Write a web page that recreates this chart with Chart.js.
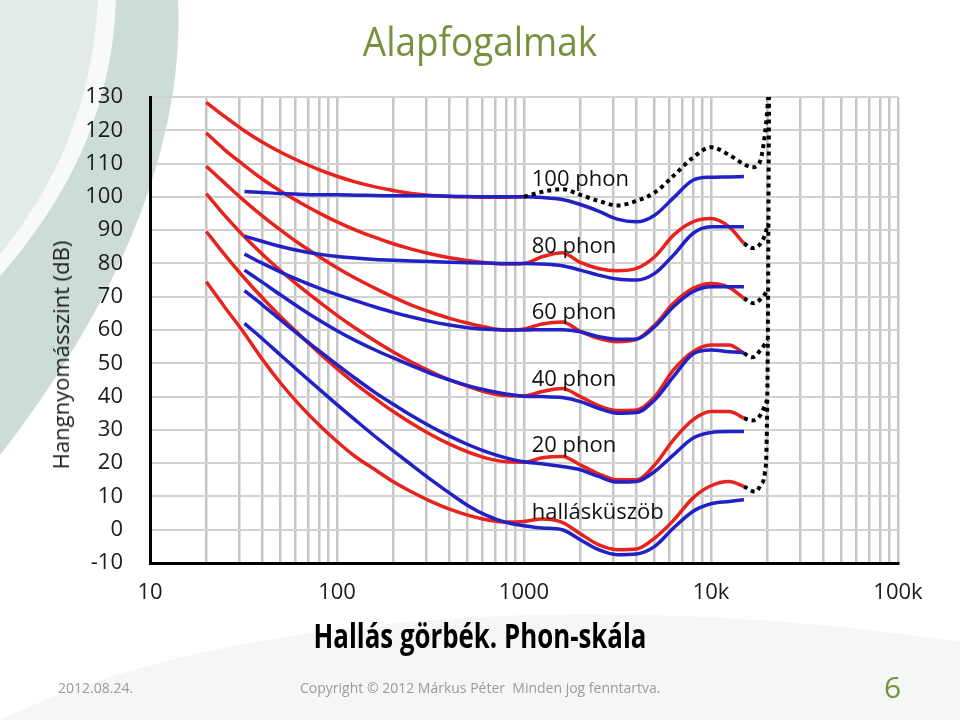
<!DOCTYPE html>
<html>
<head>
<meta charset="utf-8">
<title>Hallás görbék</title>
<script src="https://cdn.jsdelivr.net/npm/chart.js@4.4.1/dist/chart.umd.min.js"></script>
<style>
  html, body { margin: 0; padding: 0; background: #fff; }
  #wrap { position: relative; width: 960px; height: 720px; overflow: hidden; font-family: "Open Sans", sans-serif; }
  #bg, #chart { position: absolute; left: 0; top: 0; }
  .txt { position: absolute; white-space: nowrap; }
  #title { left: 480px; top: 12px; font-size: 41px; color: #76923c; transform: translateX(-50%) scaleX(0.9); }
  #ytitle { left: 60px; top: 355px; font-size: 22px; color: #1a1a1a; transform: translate(-50%, -50%) rotate(-90deg); }
  #sub { left: 480px; top: 612px; font-size: 34px; font-weight: bold; color: #000; transform: translateX(-50%) scaleX(0.76); }
  #date { left: 58px; top: 678px; font-size: 14px; color: #9a9a9a; }
  #copy { left: 300px; top: 678px; font-size: 14px; color: #9a9a9a; }
  #page { left: 884px; top: 666px; font-size: 30px; color: #76923c; }
</style>
</head>
<body>
<div id="wrap">
  <svg id="bg" width="960" height="720">
    <path d="M0,0 H178 C184,130 132,285 0,455 Z" fill="#cddcd7"/>
    <path d="M0,0 H104 C100,110 60,190 0,262 Z" fill="#e3ebe8"/>
    <path d="M98,0 H116 C112,112 68,198 0,276 V254 C54,188 92,108 98,0 Z" fill="#f7faf9"/>
    <path d="M0,720 C220,612 600,588 960,642 V720 Z" fill="#f4f7f6"/>
  </svg>
  <canvas id="chart" width="960" height="720"></canvas>
  <div class="txt" id="title">Alapfogalmak</div>
  <div class="txt" id="ytitle">Hangnyomásszint (dB)</div>
  <div class="txt" id="sub">Hallás görbék. Phon-skála</div>
  <div class="txt" id="date">2012.08.24.</div>
  <div class="txt" id="copy">Copyright © 2012 Márkus Péter&nbsp; Minden jog fenntartva.</div>
  <div class="txt" id="page">6</div>
</div>
<script>
// Frequencies (Hz)
const redFreqs = [20, 25, 31.5, 40, 50, 63, 80, 100, 125, 160, 200, 250, 315, 400, 500, 630, 800,
  1000, 1250, 1600, 2000, 2500, 3150, 4000, 5000, 6300, 8000, 10000, 12500, 15000];
const blueFreqs = [32, 40, 50, 63, 80, 100, 125, 160, 200, 250, 315, 400, 500, 630, 800,
  1000, 1250, 1600, 2000, 2500, 3150, 4000, 5000, 6300, 8000, 10000, 12500, 15000];

// Red curves (dB SPL at redFreqs)
const red0 = [74.5, 67, 59.5, 51.1, 44, 37.5, 31.5, 26.5, 22, 18, 14.4, 11.4, 8.6, 6.2, 4.4, 3.0, 2.3,
  2.5, 3.2, 2.2, -1.2, -4.5, -6.0, -5.8, -2.5, 2.8, 9.5, 13.2, 14.5, 13.0];
const red20 = [89.6, 82.7, 76, 69.6, 64, 58.6, 53.2, 48.4, 43.9, 39.4, 35.5, 32, 28.7, 25.7, 23.4, 21.5, 20.4,
  20.3, 21.6, 22, 19.5, 16.8, 15, 15, 19.5, 27, 33, 35.5, 35.5, 33.5];
const red40 = [101, 94.5, 88.4, 82.7, 77.8, 73.1, 68.5, 64.4, 60.6, 56.7, 53.4, 50.4, 47.6, 45, 43.1, 41.3, 40.3,
  40.2, 41.5, 42.4, 40, 37.3, 35.8, 36, 40, 48, 53.5, 55.5, 55.5, 53];
const red60 = [109.2, 104.2, 99.1, 94.2, 90, 85.9, 82.1, 78.7, 75.6, 72.5, 69.9, 67.5, 65.4, 63.5, 62.1, 60.8, 60,
  60.3, 61.8, 62.4, 59.6, 57.5, 56.5, 57.2, 61.5, 68, 72.5, 74, 72.8, 69.5];
const red80 = [119.2, 114.2, 109.7, 105.3, 101.7, 98.4, 95.2, 92.5, 90.1, 87.8, 85.9, 84.3, 82.9, 81.7, 80.9, 80.2, 79.8,
  80, 82, 83.2, 80.3, 78.5, 77.8, 78.5, 82, 88.5, 92.5, 93.5, 91, 86];
const red100 = [128.4, 124.2, 120.1, 116.4, 113.4, 110.7, 108.2, 106.2, 104.5, 103, 101.9, 101, 100.4, 100.1, 100, 99.9, 99.9,
  100, null, null, null, null, null, null, null, null, null, null, null, null];

// Blue curves (dB SPL at blueFreqs)
const blue0 = [62, 57.3, 52.4, 47.4, 42.3, 37.6, 33.0, 28.0, 23.7, 19.5, 15.2, 11, 7.3, 4.3, 2.2,
  1.2, 0.5, 0, -3, -6, -7.5, -7.3, -5, 0.5, 5.5, 7.8, 8.5, 9];
const blue20 = [71.8, 67.5, 63, 58.4, 53.8, 49.6, 45.5, 41.2, 37.7, 34.3, 31.1, 28.1, 25.6, 23.4, 21.6,
  20.4, 19.8, 19, 18, 16, 14.3, 14.5, 17.5, 22.5, 27.5, 29.2, 29.5, 29.5];
const blue40 = [78, 74.3, 70.5, 66.7, 63, 59.8, 56.9, 54, 51.6, 49.3, 47, 45, 43.3, 41.9, 40.8,
  40.1, 40, 39.7, 38.5, 36.5, 35, 35.2, 39, 46, 52.8, 54, 53.5, 53.2];
const blue60 = [82.8, 80.0, 77.4, 74.9, 72.6, 70.6, 68.8, 66.9, 65.3, 63.9, 62.6, 61.5, 60.7, 60.2, 60.0,
  60, 60.1, 60.1, 59.5, 58, 57.2, 57.3, 61, 67, 71.5, 73, 73, 73];
const blue80 = [88.2, 86.6, 85.1, 83.8, 82.8, 82.1, 81.6, 81.2, 80.95, 80.75, 80.55, 80.35, 80.2, 80.1, 80,
  80, 79.8, 79.3, 78, 76.5, 75.3, 75, 77, 82.5, 89, 91, 91, 91];
const blue100 = [101.6, 101.3, 101, 100.8, 100.6, 100.6, 100.5, 100.4, 100.3, 100.3, 100.3, 100.2, 100.1, 100, 100,
  100, 99.8, 99.2, 97.7, 95.7, 93.3, 92.5, 94.5, 99.7, 105, 105.9, 106, 106.1];

// Dotted black continuations (upper 100 phon part and the ~20 kHz wall)
const dot100Freqs = [1000, 1250, 1600, 2000, 2500, 3150, 4000, 5000, 6300, 8000, 10000, 12500, 15000,
  16600, 17800, 18600, 19700, 20300];
const dot100 = [100, 101.5, 102.3, 100.6, 98.8, 97.4, 98.8, 101.3, 106.3, 111.8, 114.9, 112.6, 109.8,
  108.9, 109.6, 112, 122, 131];
const wallFreqs = [15000, 17200, 18400, 19400, 19800, 20000, 20150, 20250, 20350, 20450];
const wall = [13, 11.4, 13.4, 17, 24, 40, 60, 85, 110, 131];
const dot20Freqs = [15000, 16600, 18400, 19950];
const dot20 = [33.5, 32.8, 34.5, 39];
const dot40Freqs = [15000, 16600, 18400, 20120];
const dot40 = [53, 51.8, 54, 57];
const dot60Freqs = [15000, 17000, 18900, 20200];
const dot60 = [69.5, 68, 70, 72];
const dot80Freqs = [15000, 16600, 18900, 20280];
const dot80 = [86, 84.6, 87, 92];

// Axis ticks and curve labels
const xMajorTicks = [10, 100, 1000, 10000, 100000];
const xTickLabels = ['10', '100', '1000', '10k', '100k'];
const phonLevels = [100, 80, 60, 40, 20, 0];
const phonLabels = ['100 phon', '80 phon', '60 phon', '40 phon', '20 phon', 'hallásküszöb'];

const RED = '#e6231c';
const BLUE = '#2121c6';

function toPoints(freqs, vals) {
  const pts = [];
  freqs.forEach((f, i) => {
    if (vals[i] !== null && vals[i] !== undefined) pts.push({ x: f, y: vals[i] });
  });
  return pts;
}

function curve(freqs, vals, color, order) {
  return {
    data: toPoints(freqs, vals),
    borderColor: color,
    borderWidth: 3.5,
    pointRadius: 0,
    fill: false,
    cubicInterpolationMode: 'monotone',
    order: order
  };
}

function dotted(freqs, vals) {
  return {
    data: toPoints(freqs, vals),
    borderColor: '#000',
    borderWidth: 4,
    borderDash: [4, 4],
    borderCapStyle: 'butt',
    pointRadius: 0,
    fill: false,
    cubicInterpolationMode: 'monotone',
    order: 0
  };
}

// grid lines on every 1..9 x 10^n
const xGridTicks = [];
for (let e = 1; e <= 5; e++) {
  for (let m = 1; m <= 9; m++) {
    const v = m * Math.pow(10, e);
    if (v <= 100000) xGridTicks.push(v);
  }
}

// phon labels next to the curves
const phonLabelPlugin = {
  id: 'phonLabels',
  afterDatasetsDraw(chart) {
    const { ctx, scales } = chart;
    ctx.save();
    ctx.font = '22px "Open Sans"';
    ctx.fillStyle = '#111';
    ctx.textAlign = 'left';
    ctx.textBaseline = 'alphabetic';
    const x = scales.x.getPixelForValue(1100);
    phonLevels.forEach((lv, i) => {
      ctx.fillText(phonLabels[i], x, scales.y.getPixelForValue(lv + 3.2));
    });
    ctx.restore();
  }
};

Chart.defaults.font.family = '"Open Sans", sans-serif';

const chart = new Chart(document.getElementById('chart').getContext('2d'), {
  type: 'line',
  data: {
    datasets: [
      dotted(dot100Freqs, dot100),
      dotted(wallFreqs, wall),
      dotted(dot20Freqs, dot20),
      dotted(dot40Freqs, dot40),
      dotted(dot60Freqs, dot60),
      dotted(dot80Freqs, dot80),
      curve(blueFreqs, blue100, BLUE, 1),
      curve(blueFreqs, blue80, BLUE, 1),
      curve(blueFreqs, blue60, BLUE, 1),
      curve(blueFreqs, blue40, BLUE, 1),
      curve(blueFreqs, blue20, BLUE, 1),
      curve(blueFreqs, blue0, BLUE, 1),
      curve(redFreqs, red100, RED, 2),
      curve(redFreqs, red80, RED, 2),
      curve(redFreqs, red60, RED, 2),
      curve(redFreqs, red40, RED, 2),
      curve(redFreqs, red20, RED, 2),
      curve(redFreqs, red0, RED, 2)
    ]
  },
  options: {
    responsive: false,
    animation: false,
    devicePixelRatio: 1,
    layout: { padding: { top: 97, right: 62, bottom: 0, left: 0 } },
    plugins: {
      legend: { display: false },
      tooltip: { enabled: false },
      title: { display: false }
    },
    scales: {
      x: {
        type: 'logarithmic',
        min: 10,
        max: 100000,
        afterFit(scale) { scale.height = 157; },
        afterBuildTicks(scale) { scale.ticks = xGridTicks.map(v => ({ value: v })); },
        grid: { color: '#c6c6c6', lineWidth: 2.5, drawTicks: false },
        border: { display: true, color: '#000', width: 3 },
        ticks: {
          autoSkip: false,
          maxRotation: 0,
          padding: 17,
          color: '#1a1a1a',
          font: { size: 22 },
          callback(value) {
            const i = xMajorTicks.indexOf(value);
            return i >= 0 ? xTickLabels[i] : '';
          }
        }
      },
      y: {
        min: -10,
        max: 130,
        afterFit(scale) { scale.width = 150; },
        grid: { color: '#d2d2d2', lineWidth: 2, drawTicks: false },
        border: { display: true, color: '#000', width: 3 },
        ticks: {
          stepSize: 10,
          padding: 27,
          color: '#1a1a1a',
          font: { size: 22 }
        }
      }
    }
  },
  plugins: [phonLabelPlugin]
});
</script>
</body>
</html>
